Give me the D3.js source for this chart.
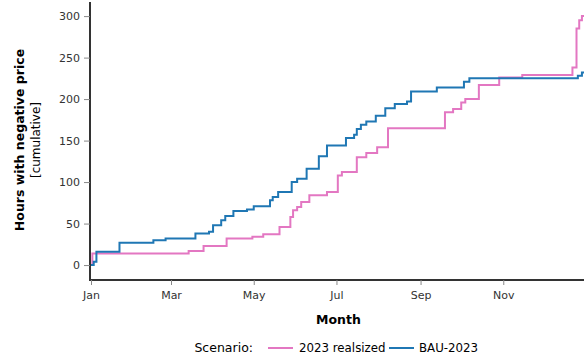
<!DOCTYPE html>
<html>
<head>
<meta charset="utf-8">
<script src="https://cdn.jsdelivr.net/npm/d3@7"></script>
<style>
  html, body { margin: 0; padding: 0; background: #fff; }
  svg { display: block; font-family: "DejaVu Sans", Verdana, sans-serif; }
</style>
</head>
<body>
<svg id="chart" width="584" height="360"></svg>
<script>
// Cumulative hours with negative electricity price, 2023, per scenario
const seriesNames = ["2023 realsized", "BAU-2023"];
const seriesColors = ["#e377c2", "#1f77b4"];

const realsizedDates = ["2023-01-01","2023-01-02","2023-03-14","2023-03-25","2023-04-11","2023-04-30","2023-05-08","2023-05-20","2023-05-28","2023-05-30","2023-06-02","2023-06-05","2023-06-11","2023-06-24","2023-07-02","2023-07-05","2023-07-16","2023-07-23","2023-07-31","2023-08-08","2023-09-19","2023-09-25","2023-10-01","2023-10-04","2023-10-14","2023-10-29","2023-11-15","2023-12-22","2023-12-25","2023-12-27","2023-12-29","2023-12-31"];
const realsizedHours = [0,14,17,23,32,34,37,46,58,66,70,76,84,88,108,112,130,135,142,165,184,188,196,200,217,226,229,238,285,295,300,301];

const bauDates = ["2023-01-01","2023-01-03","2023-01-05","2023-01-22","2023-02-16","2023-02-25","2023-03-19","2023-03-29","2023-04-01","2023-04-07","2023-04-10","2023-04-16","2023-04-26","2023-05-01","2023-05-13","2023-05-15","2023-05-19","2023-05-29","2023-06-02","2023-06-09","2023-06-18","2023-06-24","2023-07-08","2023-07-14","2023-07-16","2023-07-19","2023-07-23","2023-07-30","2023-08-06","2023-08-13","2023-08-22","2023-08-25","2023-09-13","2023-10-03","2023-10-07","2023-12-26","2023-12-29","2023-12-31"];
const bauHours = [0,4,16,27,30,32,38,40,48,54,59,65,67,71,78,82,88,100,104,116,131,144,153,157,164,169,173,180,189,194,197,209,214,221,225,228,232,232];

const yTicks = [0, 50, 100, 150, 200, 250, 300];
const xTickMonths = ["2023-01-01","2023-03-01","2023-05-01","2023-07-01","2023-09-01","2023-11-01"];

const parse = d3.utcParse("%Y-%m-%d");
const series = [
  { name: seriesNames[0], color: seriesColors[0], values: realsizedDates.map((d, i) => ({ date: parse(d), v: realsizedHours[i] })) },
  { name: seriesNames[1], color: seriesColors[1], values: bauDates.map((d, i) => ({ date: parse(d), v: bauHours[i] })) }
];

const svg = d3.select("#chart");
const plotLeft = 91, plotRight = 586, plotTop = 2, plotBottom = 280;

const x = d3.scaleUtc().domain([parse("2023-01-01"), parse("2024-01-01")]).range([plotLeft, plotRight]);
const y = d3.scaleLinear().domain([-18, 317]).range([plotBottom, plotTop]);

// axes
const xAxis = d3.axisBottom(x).tickValues(xTickMonths.map(parse)).tickFormat(d3.utcFormat("%b")).tickSizeOuter(0).tickSize(5).tickPadding(6);
const yAxis = d3.axisLeft(y).tickValues(yTicks).tickSizeOuter(0).tickSize(6).tickPadding(4);

const gx = svg.append("g").attr("transform", `translate(0,${plotBottom})`).call(xAxis);
const gy = svg.append("g").attr("transform", `translate(${plotLeft - 1},0)`).call(yAxis);

[gx, gy].forEach(g => {
  g.select(".domain").attr("stroke", "#333").attr("stroke-width", 2);
  g.selectAll(".tick line").attr("stroke", "#888");
  g.selectAll(".tick text").attr("fill", "#333").style("font-size", "11px").style("font-family", "DejaVu Sans, Verdana, sans-serif");
});
gx.select(".domain").attr("d", `M${plotLeft - 2},0H584`);
gy.select(".domain").attr("d", `M0,${plotTop}V${plotBottom}`);

// lines
const line = d3.line().curve(d3.curveStepAfter).x(d => x(d.date)).y(d => y(d.v));
svg.append("g").selectAll("path").data(series).join("path")
  .attr("fill", "none")
  .attr("stroke", d => d.color)
  .attr("stroke-width", 2)
  .attr("d", d => line(d.values));

// axis titles
const yMid = 140;
svg.append("text")
  .attr("transform", `translate(24,${yMid}) rotate(-90)`)
  .attr("text-anchor", "middle")
  .style("font-size", "12.5px").style("font-weight", "bold").attr("fill", "#000")
  .text("Hours with negative price");
svg.append("text")
  .attr("transform", `translate(40,${yMid}) rotate(-90)`)
  .attr("text-anchor", "middle")
  .style("font-size", "12px").attr("fill", "#000")
  .text("[cumulative]");
svg.append("text")
  .attr("x", (plotLeft + plotRight) / 2).attr("y", 324)
  .attr("text-anchor", "middle")
  .style("font-size", "12.5px").style("font-weight", "bold").attr("fill", "#000")
  .text("Month");

// legend
const legY = 348;
svg.append("text").attr("x", 253).attr("y", legY + 4).attr("text-anchor", "end")
  .style("font-size", "12.5px").attr("fill", "#000").text("Scenario:");
const legItems = [{ x1: 268, tx: 299 }, { x1: 389, tx: 419 }];
series.forEach((s, i) => {
  svg.append("line").attr("x1", legItems[i].x1).attr("x2", legItems[i].x1 + 25)
    .attr("y1", legY).attr("y2", legY).attr("stroke", s.color).attr("stroke-width", 2);
  svg.append("text").attr("x", legItems[i].tx).attr("y", legY + 4)
    .style("font-size", "11.8px").attr("fill", "#000").text(s.name);
});
</script>
</body>
</html>
